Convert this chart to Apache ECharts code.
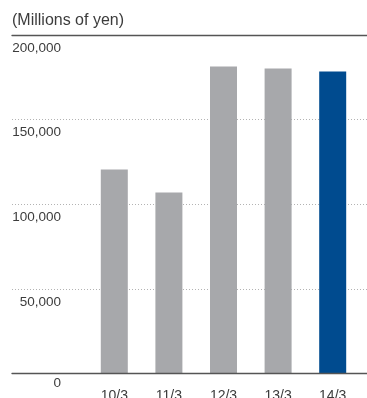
<!DOCTYPE html>
<html><head><meta charset="utf-8">
<script src="https://cdn.jsdelivr.net/npm/echarts@6/dist/echarts.min.js"></script>
<style>html,body{margin:0;padding:0;background:#fff}#c{width:367px;height:398px}</style>
</head><body><div id="c"></div>
<script>
const categories = ['10/3', '11/3', '12/3', '13/3', '14/3'];
const values = [120500, 107000, 181400, 180200, 178400];
const yTicks = [0, 50000, 100000, 150000, 200000];
const unitLabel = '(Millions of yen)';

const FONT = '"Liberation Sans", Arial, sans-serif';
const GRAY = '#a7a8ab', BLUE = '#004b8f';
const chart = echarts.init(document.getElementById('c'));
const gTop = 35, gBottom = 24.5;
chart.setOption({
  animation: false,
  title: { text: unitLabel, left: 7, top: 8, textStyle: { fontFamily: FONT, fontSize: 16, fontWeight: 'normal', color: '#3c3c3c' } },
  grid: [
    { left: 12, right: 0, top: gTop, bottom: gBottom, containLabel: false, outerBoundsMode: 'none' },
    { left: 87, right: 7, top: gTop, bottom: gBottom, containLabel: false, outerBoundsMode: 'none' }
  ],
  xAxis: [
    { gridIndex: 0, type: 'value', min: 0, max: 1, show: true, position: 'bottom', z: 5,
      axisLine: { show: true, onZero: false, lineStyle: { color: '#555', width: 1.3 } },
      axisTick: { show: false }, axisLabel: { show: false }, splitLine: { show: false } },
    { gridIndex: 0, type: 'value', min: 0, max: 1, position: 'top', z: 5,
      axisLine: { show: true, onZero: false, lineStyle: { color: '#555', width: 1.3 } },
      axisTick: { show: false }, axisLabel: { show: false }, splitLine: { show: false } },
    { gridIndex: 1, type: 'category', data: categories,
      axisLine: { show: false, onZero: false }, axisTick: { show: false },
      axisLabel: { margin: 16, fontFamily: FONT, fontSize: 14, color: '#3c3c3c' } }
  ],
  yAxis: [
    { gridIndex: 0, type: 'value', min: 0, max: 200000, interval: 50000,
      axisLine: { show: false }, axisTick: { show: false },
      axisLabel: { inside: true, margin: 49, align: 'right', verticalAlign: 'top',
        fontFamily: FONT, fontSize: 13.5, color: '#3c3c3c',
        formatter: v => yTicks.includes(v) ? (v === 0 ? '{z|0}' : '{a|' + v.toLocaleString('en-US') + '}') : '',
        rich: { a: { padding: [6, 0, 0, 0], fontFamily: FONT, fontSize: 13.5, color: '#3c3c3c' },
                z: { padding: [3, 0, 0, 0], fontFamily: FONT, fontSize: 13.5, color: '#3c3c3c' } } },
      splitLine: { show: true, lineStyle: { color: '#b3b3b3', type: [1, 2], width: 1 } } },
    { gridIndex: 1, type: 'value', min: 0, max: 200000, interval: 50000, show: false, splitLine: { show: false } }
  ],
  series: [{
    type: 'bar', xAxisIndex: 2, yAxisIndex: 1, barWidth: 27, z: 1,
    itemStyle: { borderWidth: 0 },
    data: values.map((v, i) => ({ value: v, itemStyle: { color: i === values.length - 1 ? BLUE : GRAY } }))
  }]
});
</script></body></html>
